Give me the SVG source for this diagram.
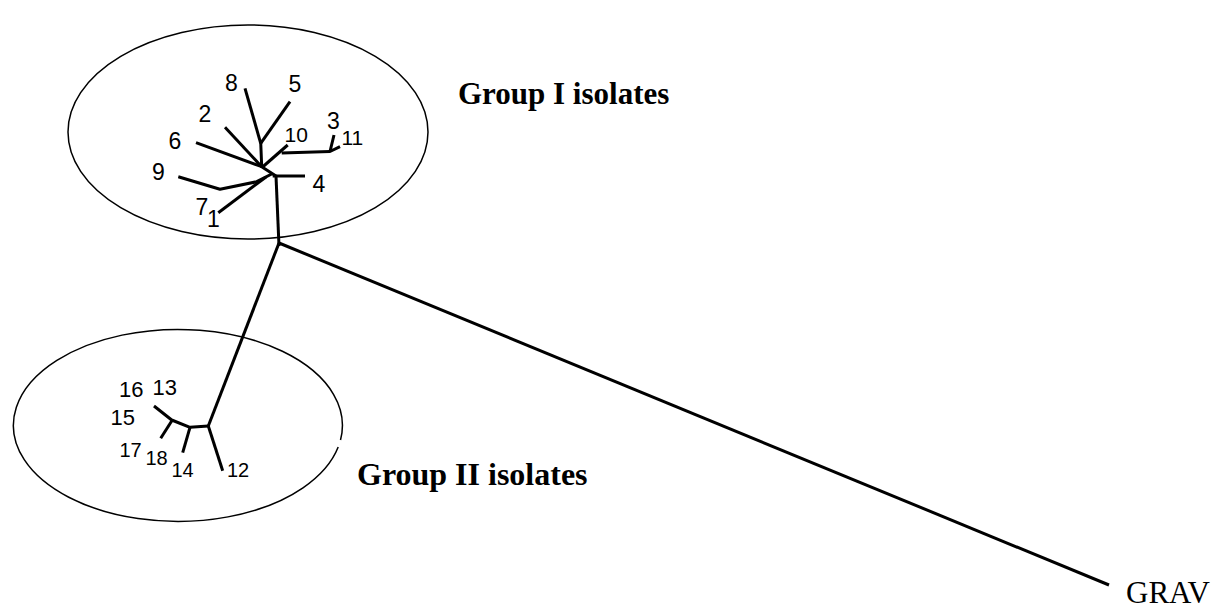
<svg xmlns="http://www.w3.org/2000/svg" width="1216" height="608" viewBox="0 0 1216 608">
<style>
.br{fill:none;stroke:#000;stroke-width:3;stroke-linecap:butt;stroke-linejoin:round}
.el{fill:none;stroke:#000;stroke-width:1.5}
.lb{font-family:"Liberation Sans",Arial,sans-serif;fill:#000}
.gp{font-family:"Liberation Serif","Times New Roman",serif;font-weight:bold;fill:#000}
.gr{font-family:"Liberation Serif","Times New Roman",serif;fill:#000}
</style>
<rect width="1216" height="608" fill="#fff"/>
<g id="group1-ellipse"><ellipse class="el" cx="248" cy="132" rx="180" ry="107"/></g>
<g id="group2-ellipse"><path class="el" d="M340.5,440 A164.5,96 0 1 0 338.2,447"/></g>
<g id="connectors">
<polyline class="br" points="279,243 1109,585"/>
<polyline class="br" points="279,246 276,176"/>
<polyline class="br" points="272.7,176 305,176"/>
<polyline class="br" points="276,176 261.7,166.7 260.7,142"/>
<polyline class="br" points="245,88.3 260.7,143.3"/>
<polyline class="br" points="290,101.7 260.7,143.3"/>
<polyline class="br" points="225,127.3 261.7,166.7"/>
<polyline class="br" points="196,142.7 261.7,166.7"/>
<polyline class="br" points="287.7,145 262,167.5"/>
<polyline class="br" points="281.7,153 330,151.5"/>
<polyline class="br" points="334,135 330,151.5 340,146.7"/>
<polyline class="br" points="271.7,174 256.7,181.7 220,189.3 178.3,176.7"/>
<polyline class="br" points="218.3,212.7 266,177"/>
<polyline class="br" points="279,243 208.3,426"/>
<polyline class="br" points="208.3,426 222.7,470.7"/>
<polyline class="br" points="208.3,426 190,427.3 171.7,420 154,406"/>
<polyline class="br" points="190,427.3 182.7,452.7"/>
<polyline class="br" points="171.7,421 160.7,438.3"/>
</g>
<g id="leaf-8"><text class="lb" x="225" y="91" font-size="23">8</text></g>
<g id="leaf-5"><text class="lb" x="288.5" y="92" font-size="23">5</text></g>
<g id="leaf-2"><text class="lb" x="198.5" y="122" font-size="23">2</text></g>
<g id="leaf-6"><text class="lb" x="168.5" y="148.5" font-size="23">6</text></g>
<g id="leaf-9"><text class="lb" x="152" y="179.5" font-size="23">9</text></g>
<g id="leaf-10"><text class="lb" x="284.5" y="141.7" font-size="21">10</text></g>
<g id="leaf-3"><text class="lb" x="327" y="128.5" font-size="23">3</text></g>
<g id="leaf-11"><text class="lb" x="341.5" y="145" font-size="21">11</text></g>
<g id="leaf-4"><text class="lb" x="312.5" y="192" font-size="23">4</text></g>
<g id="leaf-7"><text class="lb" x="195.5" y="214.5" font-size="23">7</text></g>
<g id="leaf-1"><text class="lb" x="207" y="227" font-size="23">1</text></g>
<g id="leaf-16"><text class="lb" x="119" y="397.3" font-size="22">16</text></g>
<g id="leaf-13"><text class="lb" x="152.5" y="395" font-size="22">13</text></g>
<g id="leaf-15"><text class="lb" x="110.5" y="425" font-size="22">15</text></g>
<g id="leaf-17"><text class="lb" x="119.5" y="456.7" font-size="20">17</text></g>
<g id="leaf-18"><text class="lb" x="145.5" y="465" font-size="20">18</text></g>
<g id="leaf-14"><text class="lb" x="171.5" y="476.7" font-size="20">14</text></g>
<g id="leaf-12"><text class="lb" x="227" y="477.3" font-size="20">12</text></g>
<g id="label-group1"><text class="gp" x="458" y="104" font-size="31">Group I isolates</text></g>
<g id="label-group2"><text class="gp" x="357" y="485" font-size="32">Group II isolates</text></g>
<g id="leaf-GRAV"><text class="gr" x="1126" y="603" font-size="31">GRAV</text></g>
</svg>
